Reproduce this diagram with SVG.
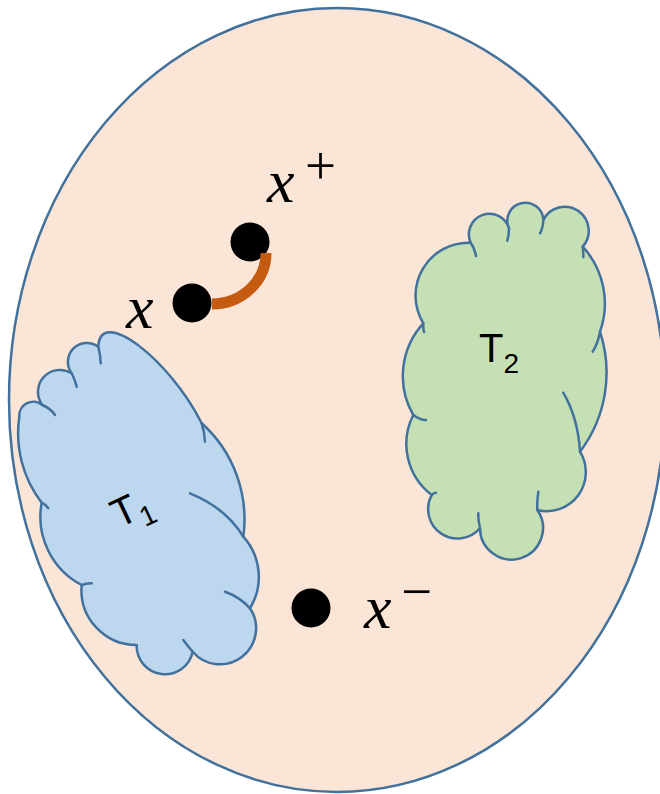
<svg xmlns="http://www.w3.org/2000/svg" width="660" height="794" viewBox="0 0 660 794">
<style>
.cloud{stroke:#41719C;stroke-width:2.5;stroke-linejoin:round}
.hook{fill:none;stroke:#41719C;stroke-width:2.5;stroke-linecap:round}
.dot{fill:#000}
.lbl{font-family:"Liberation Serif","DejaVu Serif",serif;font-style:italic;fill:#000}
.sym{font-family:"Liberation Serif","DejaVu Serif",serif;fill:#000}
.tl{font-family:"Liberation Sans",Arial,sans-serif;fill:#000}
</style>
<g id="space">
<ellipse cx="337" cy="400" rx="328" ry="392" fill="#FBE5D6" stroke="#41719C" stroke-width="2.5"/>
</g>
<g id="T1">
<path class="cloud" fill="#BDD7EE" d="M19.3,416.7 A14 14 0 0 1 42.3,405 A22 22 0 0 1 71.7,373.3 A19 19 0 0 1 98.3,346.7 C100,305 170,360 201.7,423.3 A129 129 0 0 1 243.3,536.7 A60 60 0 0 1 250,608.3 A36 36 0 0 1 192.7,651.7 A28.3 28.3 0 0 1 136.7,645 A55 55 0 0 1 81.7,585 A77 77 0 0 1 41.7,502.7 A114 114 0 0 1 19.3,416.7 Z"/>
<path class="hook" d="M42.3,405 Q50,408 55,415 M71.7,373.3 Q75,380 76.7,386.7 M98.3,346.7 Q100.5,355 100.7,363.3 M201.7,423.3 Q204.5,432 205,441.7 M190,493.3 Q226,508 243.3,536.7 M225,591.7 Q240,597 250,608.3 M192.7,651.7 Q187,645 183.3,640 M81.7,585 Q87,583 91.7,583.3 M41.7,502.7 Q45,504 48.3,508.3"/>
<text class="tl" transform="translate(133,512) rotate(-25)" x="-20" y="9" font-size="40">T<tspan font-size="28" dy="10">1</tspan></text>
</g>
<g id="T2">
<path class="cloud" fill="#C5E0B4" d="M423.3,323.3 A53 53 0 0 1 470.7,242.7 A20.5 20.5 0 1 1 509,228.3 A18 18 0 1 1 543.3,220 A24 24 0 1 1 582.7,246.7 A84 84 0 0 1 600,331.7 A131 131 0 0 1 580,451.7 A39 39 0 0 1 537.3,510 A31.5 31.5 0 1 1 480,528.3 A29.5 29.5 0 0 1 431.7,495 A64 64 0 0 1 413.3,415 A78 78 0 0 1 423.3,323.3 Z"/>
<path class="hook" d="M423.3,323.3 Q423,328 424,332 M470.7,242.7 Q474.5,248 476,256 M509,228.3 Q509,235 507.3,240.7 M543.3,220 Q543,228 540,233.3 M582.7,246.7 Q583.5,252 583.3,257.3 M600,331.7 Q598,343 592.7,351.7 M563.3,392.7 Q578,418 580,451.7 M537.3,510 Q537,500 538.3,491.7 M480,528.3 Q478,520 478.3,513.3 M431.7,495 Q433,493 436,492.7 M413.3,415 Q420,420 426,420"/>
<text class="tl" x="479" y="362" font-size="40">T<tspan font-size="28" dy="11">2</tspan></text>
</g>
<g id="x">
<circle class="dot" cx="192" cy="303" r="19.5"/>
<text class="lbl" x="126" y="328" font-size="62">x</text>
</g>
<g id="xplus">
<circle class="dot" cx="250" cy="242" r="19.5"/>
<text class="lbl" x="267" y="202" font-size="62">x</text>
<text class="sym" x="305" y="184" font-size="55">+</text>
</g>
<g id="xminus">
<circle class="dot" cx="311" cy="608" r="19.5"/>
<text class="lbl" x="364" y="628" font-size="62">x</text>
<text class="sym" x="401" y="609.5" font-size="55">−</text>
</g>
<g id="connectors">
<path d="M212,304 A54 51 0 0 0 266,253" fill="none" stroke="#C55A11" stroke-width="11"/>
</g>
</svg>
